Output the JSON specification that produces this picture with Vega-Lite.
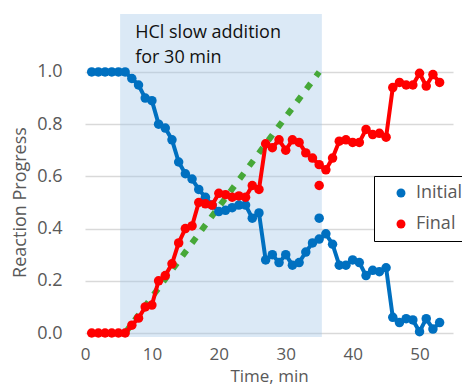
{
  "$schema": "https://vega.github.io/schema/vega-lite/v6.json",
  "width": 368,
  "height": 323,
  "autosize": {"type": "none"},
  "padding": {"left": 85, "top": 14, "right": 9, "bottom": 50},
  "background": "white",
  "config": {
    "view": {"stroke": null},
    "font": "Open Sans",
    "legend": {
      "orient": "none",
      "legendX": 289,
      "legendY": 162,
      "strokeColor": "#000000",
      "fillColor": "#ffffff",
      "padding": 8,
      "symbolOffset": 10,
      "symbolType": "circle",
      "symbolSize": 80,
      "labelFontSize": 18,
      "labelColor": "#595959",
      "labelOffset": 6,
      "rowPadding": 13,
      "title": null
    }
  },
  "datasets": {
    "progress": [
      {"t":1,"v":1,"series":"Initial","kind":"main"},{"t":2,"v":1,"series":"Initial","kind":"main"},{"t":3,"v":1,"series":"Initial","kind":"main"},{"t":4,"v":1,"series":"Initial","kind":"main"},{"t":5,"v":1,"series":"Initial","kind":"main"},{"t":6,"v":1,"series":"Initial","kind":"main"},
      {"t":7,"v":0.975,"series":"Initial","kind":"main"},{"t":8,"v":0.95,"series":"Initial","kind":"main"},{"t":9,"v":0.9,"series":"Initial","kind":"main"},{"t":10,"v":0.89,"series":"Initial","kind":"main"},{"t":11,"v":0.8,"series":"Initial","kind":"main"},{"t":12,"v":0.785,"series":"Initial","kind":"main"},{"t":13,"v":0.74,"series":"Initial","kind":"main"},{"t":14,"v":0.655,"series":"Initial","kind":"main"},{"t":15,"v":0.61,"series":"Initial","kind":"main"},{"t":16,"v":0.59,"series":"Initial","kind":"main"},{"t":17,"v":0.55,"series":"Initial","kind":"main"},{"t":18,"v":0.52,"series":"Initial","kind":"main"},{"t":19,"v":0.49,"series":"Initial","kind":"main"},{"t":20,"v":0.465,"series":"Initial","kind":"main"},
      {"t":21,"v":0.47,"series":"Initial","kind":"main"},{"t":22,"v":0.48,"series":"Initial","kind":"main"},{"t":23,"v":0.49,"series":"Initial","kind":"main"},{"t":24,"v":0.49,"series":"Initial","kind":"main"},{"t":25,"v":0.44,"series":"Initial","kind":"main"},{"t":26,"v":0.46,"series":"Initial","kind":"main"},{"t":27,"v":0.28,"series":"Initial","kind":"main"},{"t":28,"v":0.3,"series":"Initial","kind":"main"},{"t":29,"v":0.27,"series":"Initial","kind":"main"},{"t":30,"v":0.3,"series":"Initial","kind":"main"},
      {"t":31,"v":0.26,"series":"Initial","kind":"main"},{"t":32,"v":0.27,"series":"Initial","kind":"main"},{"t":33,"v":0.31,"series":"Initial","kind":"main"},{"t":34,"v":0.345,"series":"Initial","kind":"main"},{"t":35,"v":0.36,"series":"Initial","kind":"main"},{"t":36,"v":0.38,"series":"Initial","kind":"main"},{"t":37,"v":0.34,"series":"Initial","kind":"main"},{"t":38,"v":0.26,"series":"Initial","kind":"main"},{"t":39,"v":0.26,"series":"Initial","kind":"main"},{"t":40,"v":0.28,"series":"Initial","kind":"main"},
      {"t":41,"v":0.27,"series":"Initial","kind":"main"},{"t":42,"v":0.22,"series":"Initial","kind":"main"},{"t":43,"v":0.24,"series":"Initial","kind":"main"},{"t":44,"v":0.235,"series":"Initial","kind":"main"},{"t":45,"v":0.25,"series":"Initial","kind":"main"},{"t":46,"v":0.06,"series":"Initial","kind":"main"},{"t":47,"v":0.04,"series":"Initial","kind":"main"},{"t":48,"v":0.055,"series":"Initial","kind":"main"},{"t":49,"v":0.05,"series":"Initial","kind":"main"},{"t":50,"v":0.005,"series":"Initial","kind":"main"},
      {"t":51,"v":0.055,"series":"Initial","kind":"main"},{"t":52,"v":0.015,"series":"Initial","kind":"main"},{"t":53,"v":0.04,"series":"Initial","kind":"main"},
      {"t":35,"v":0.44,"series":"Initial","kind":"outlier"},
      {"t":1,"v":0,"series":"Final","kind":"main"},{"t":2,"v":0,"series":"Final","kind":"main"},{"t":3,"v":0,"series":"Final","kind":"main"},{"t":4,"v":0,"series":"Final","kind":"main"},{"t":5,"v":0,"series":"Final","kind":"main"},{"t":6,"v":0,"series":"Final","kind":"main"},
      {"t":7,"v":0.03,"series":"Final","kind":"main"},{"t":8,"v":0.057,"series":"Final","kind":"main"},{"t":9,"v":0.1,"series":"Final","kind":"main"},{"t":10,"v":0.107,"series":"Final","kind":"main"},{"t":11,"v":0.2,"series":"Final","kind":"main"},{"t":12,"v":0.22,"series":"Final","kind":"main"},{"t":13,"v":0.265,"series":"Final","kind":"main"},{"t":14,"v":0.345,"series":"Final","kind":"main"},{"t":15,"v":0.4,"series":"Final","kind":"main"},{"t":16,"v":0.41,"series":"Final","kind":"main"},{"t":17,"v":0.5,"series":"Final","kind":"main"},{"t":18,"v":0.495,"series":"Final","kind":"main"},{"t":19,"v":0.49,"series":"Final","kind":"main"},{"t":20,"v":0.535,"series":"Final","kind":"main"},
      {"t":21,"v":0.53,"series":"Final","kind":"main"},{"t":22,"v":0.52,"series":"Final","kind":"main"},{"t":23,"v":0.525,"series":"Final","kind":"main"},{"t":24,"v":0.52,"series":"Final","kind":"main"},{"t":25,"v":0.565,"series":"Final","kind":"main"},{"t":26,"v":0.55,"series":"Final","kind":"main"},{"t":27,"v":0.725,"series":"Final","kind":"main"},{"t":28,"v":0.71,"series":"Final","kind":"main"},{"t":29,"v":0.74,"series":"Final","kind":"main"},{"t":30,"v":0.7,"series":"Final","kind":"main"},
      {"t":31,"v":0.74,"series":"Final","kind":"main"},{"t":32,"v":0.73,"series":"Final","kind":"main"},{"t":33,"v":0.69,"series":"Final","kind":"main"},{"t":34,"v":0.67,"series":"Final","kind":"main"},{"t":35,"v":0.645,"series":"Final","kind":"main"},{"t":36,"v":0.625,"series":"Final","kind":"main"},{"t":37,"v":0.67,"series":"Final","kind":"main"},{"t":38,"v":0.735,"series":"Final","kind":"main"},{"t":39,"v":0.74,"series":"Final","kind":"main"},{"t":40,"v":0.73,"series":"Final","kind":"main"},
      {"t":41,"v":0.73,"series":"Final","kind":"main"},{"t":42,"v":0.78,"series":"Final","kind":"main"},{"t":43,"v":0.76,"series":"Final","kind":"main"},{"t":44,"v":0.765,"series":"Final","kind":"main"},{"t":45,"v":0.75,"series":"Final","kind":"main"},{"t":46,"v":0.94,"series":"Final","kind":"main"},{"t":47,"v":0.96,"series":"Final","kind":"main"},{"t":48,"v":0.95,"series":"Final","kind":"main"},{"t":49,"v":0.95,"series":"Final","kind":"main"},{"t":50,"v":0.995,"series":"Final","kind":"main"},
      {"t":51,"v":0.946,"series":"Final","kind":"main"},{"t":52,"v":0.99,"series":"Final","kind":"main"},{"t":53,"v":0.96,"series":"Final","kind":"main"},
      {"t":35,"v":0.565,"series":"Final","kind":"outlier"}
    ],
    "shade": [{"t": 5.25, "t2": 35.4, "v": -0.0153, "v2": 1.222}],
    "addition": [{"t": 6, "v": 0}, {"t": 35, "v": 1}],
    "notes": [
      {"t": 7.5, "v": 1.13, "label": "HCl slow addition"},
      {"t": 7.5, "v": 1.034, "label": "for 30 min"}
    ]
  },
  "encoding": {
    "x": {
      "field": "t", "type": "quantitative",
      "scale": {"domain": [0, 55], "nice": false, "zero": false},
      "axis": {
        "values": [0, 10, 20, 30, 40, 50],
        "grid": false, "domain": false, "ticks": false, "tickSize": 0,
        "labelFlush": false, "labelPadding": 9,
        "labelFontSize": 17, "labelColor": "#595959",
        "title": "Time, min", "titleFontSize": 17, "titleColor": "#595959",
        "titleFontWeight": "normal", "titleY": 44, "titleBaseline": "alphabetic"
      }
    },
    "y": {
      "field": "v", "type": "quantitative",
      "scale": {"domain": [-0.0153, 1.222], "nice": false, "zero": false},
      "axis": {
        "values": [0, 0.2, 0.4, 0.6, 0.8, 1.0], "format": ".1f",
        "grid": true, "gridColor": "#D9D9D9", "gridWidth": 1.3,
        "domain": false, "ticks": false, "tickSize": 0,
        "labelFlush": false, "labelPadding": 23,
        "labelFontSize": 18, "labelColor": "#595959",
        "title": "Reaction Progress", "titleFontSize": 18, "titleColor": "#595959",
        "titleFontWeight": "normal", "titleX": -60, "titleY": 188,
        "titleAlign": "center", "titleBaseline": "alphabetic"
      }
    }
  },
  "layer": [
    {
      "data": {"name": "shade"},
      "mark": {"type": "rect", "color": "#9DC3E6", "opacity": 0.37},
      "encoding": {"x2": {"field": "t2"}, "y2": {"field": "v2"}}
    },
    {
      "data": {"name": "notes"},
      "mark": {"type": "text", "align": "left", "baseline": "alphabetic", "fontSize": 18, "color": "#111111"},
      "encoding": {"text": {"field": "label"}}
    },
    {
      "data": {"name": "addition"},
      "mark": {"type": "line", "color": "#46A838", "strokeWidth": 6, "strokeDash": [7, 9], "strokeCap": "butt"}
    },
    {
      "data": {"name": "progress"},
      "transform": [{"filter": "datum.series === 'Initial' && datum.kind === 'main'"}],
      "mark": {"type": "line", "color": "#0070C0", "strokeWidth": 4, "strokeJoin": "round"}
    },
    {
      "data": {"name": "progress"},
      "transform": [{"filter": "datum.series === 'Initial'"}],
      "mark": {"type": "point", "shape": "circle", "filled": true, "opacity": 1, "size": 90},
      "encoding": {
        "color": {"field": "series", "type": "nominal",
          "scale": {"domain": ["Initial", "Final"], "range": ["#0070C0", "#FF0000"]}}
      }
    },
    {
      "data": {"name": "progress"},
      "transform": [{"filter": "datum.series === 'Final' && datum.kind === 'main'"}],
      "mark": {"type": "line", "color": "#FF0000", "strokeWidth": 4, "strokeJoin": "round"}
    },
    {
      "data": {"name": "progress"},
      "transform": [{"filter": "datum.series === 'Final'"}],
      "mark": {"type": "point", "shape": "circle", "filled": true, "opacity": 1, "size": 90},
      "encoding": {
        "color": {"field": "series", "type": "nominal",
          "scale": {"domain": ["Initial", "Final"], "range": ["#0070C0", "#FF0000"]}}
      }
    }
  ]
}
